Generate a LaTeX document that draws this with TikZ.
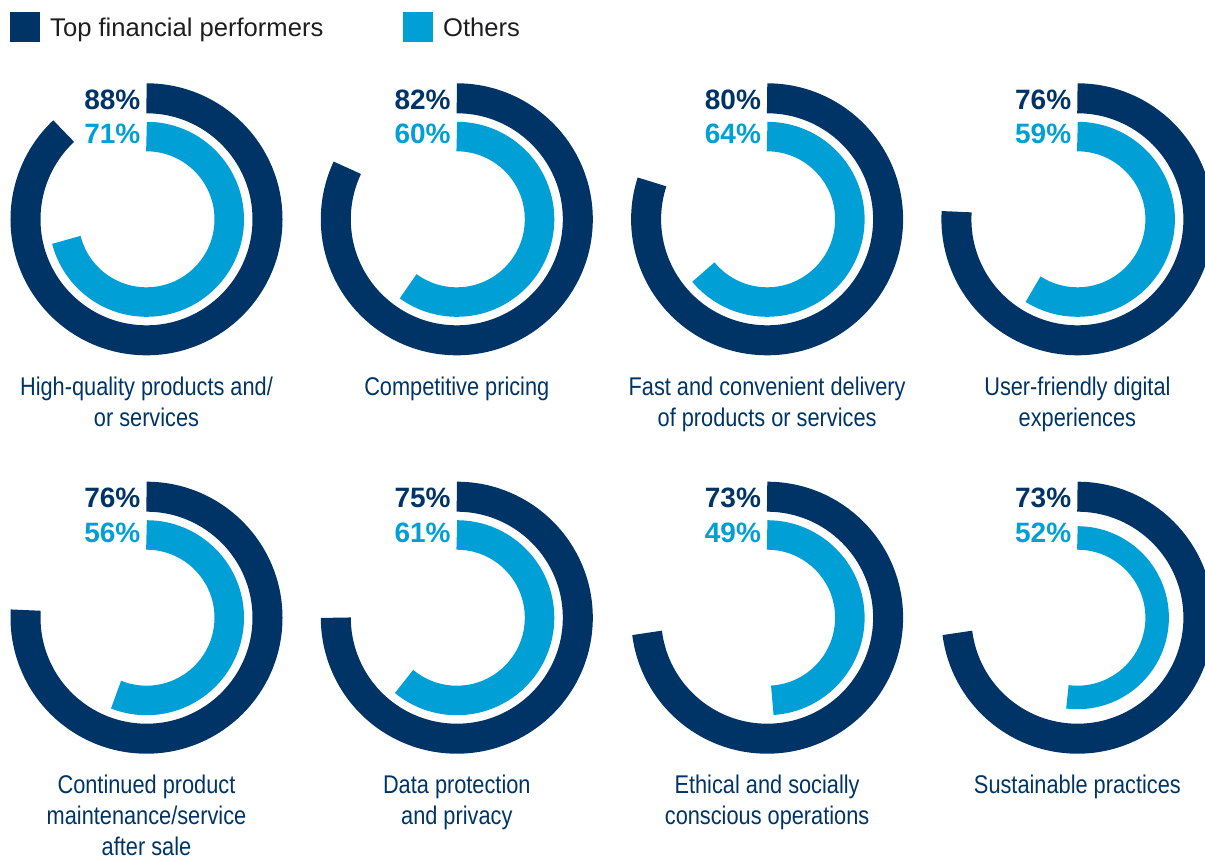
\documentclass[tikz,border=0pt]{standalone}
\usepackage{fontspec}
\setmainfont{Liberation Sans}
\newfontfamily\condfont[FakeStretch=0.85]{Liberation Sans}
\usepackage{xcolor}
\usepackage{tikz}
\usetikzlibrary{positioning, calc}
\definecolor{navy}{RGB}{0,52,102}
\definecolor{skyblue}{RGB}{0,160,214}
\definecolor{legendgray}{RGB}{30,30,32}

\begin{document}
\begin{tikzpicture}[x=1pt, y=1pt]
\tikzstyle{darkarc} = [draw=navy, line width=30pt]
\tikzstyle{lightarc} = [draw=skyblue]
\tikzstyle{pct} = [anchor=east, inner sep=0pt, font=\fontsize{28}{28}\selectfont\bfseries]
\tikzstyle{catlabel} = [anchor=north, inner sep=0pt, align=center, text=navy, font=\condfont\fontsize{25.6}{31}\selectfont]
\tikzstyle{swatch} = [minimum size=30pt, inner sep=0pt, anchor=north west]
\tikzstyle{legendtext} = [anchor=base west, inner sep=0pt, text=legendgray, font=\fontsize{25.6}{30}\selectfont]

\clip (0,0) rectangle (1205,-859);

% legend
\node[swatch, fill=navy] (topsq) at (10,-12) {};
\node[legendtext] (toptxt) at (50,-36.5) {Top financial performers};
\node[swatch, fill=skyblue] (othsq) at (403,-12) {};
\node[legendtext] (othtxt) at (443,-36.5) {Others};

% one donut per attribute: number / centre / top performers / others / width of inner ring / caption
\foreach \n/\cx/\cy/\tp/\ot/\lw/\txt in {
  1/146.5/-219.3/88/71/29.5/{High-quality products and/\\or services},
  2/456.8/-219.3/82/60/29.5/{Competitive pricing},
  3/767.1/-219.3/80/64/29.5/{Fast and convenient delivery\\of products or services},
  4/1077.4/-219.3/76/59/29.5/{User-friendly digital\\experiences},
  5/146.5/-617.7/76/56/29.5/{Continued product\\maintenance/service\\after sale},
  6/456.8/-617.7/75/61/29.5/{Data protection\\and privacy},
  7/767.1/-617.7/73/49/29.5/{Ethical and socially\\conscious operations},
  8/1077.4/-617.7/73/52/23.5/{Sustainable practices}}{
  \coordinate (c\n) at (\cx,\cy);
  \draw[darkarc] ($(c\n)+(0,121)$) arc[start angle=90, end angle={90-3.6*\tp}, radius=121];
  \draw[lightarc, line width=\lw pt] ($(c\n)+(0,68+\lw/2)$) arc[start angle=90, end angle={90-3.6*\ot}, radius={68+\lw/2}];
  \node[pct, text=navy] (top\n) at ($(c\n)+(-6,119.5)$) {\tp\%};
  \node[pct, text=skyblue] (oth\n) at ($(c\n)+(-6,85)$) {\ot\%};
  \node[catlabel] (cap\n) at ($(c\n)+(0,-157)$) {\txt};
}
\end{tikzpicture}
\end{document}
